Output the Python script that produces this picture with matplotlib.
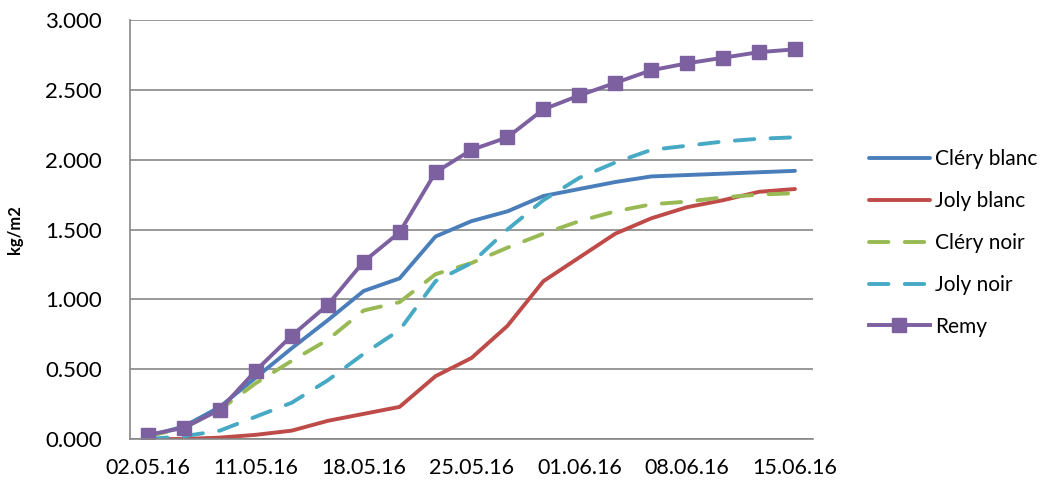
import matplotlib.pyplot as plt
import numpy as np

plt.rcParams['font.family'] = ['Lato', 'DejaVu Sans']

# categories (measurement dates), only every 3rd is labelled
tick_labels = ['02.05.16', '11.05.16', '18.05.16', '25.05.16',
               '01.06.16', '08.06.16', '15.06.16']
n_points = 19

# series values (kg/m2)
clery_blanc = [0.02, 0.09, 0.23, 0.44, 0.65, 0.85, 1.06, 1.15, 1.45, 1.56,
               1.63, 1.74, 1.79, 1.84, 1.88, 1.89, 1.90, 1.91, 1.92]
joly_blanc = [0.00, 0.00, 0.01, 0.03, 0.06, 0.13, 0.18, 0.23, 0.45, 0.58,
              0.81, 1.13, 1.30, 1.47, 1.58, 1.66, 1.71, 1.77, 1.79]
clery_noir = [0.02, 0.08, 0.21, 0.40, 0.56, 0.71, 0.92, 0.98, 1.18, 1.26,
              1.37, 1.47, 1.56, 1.63, 1.68, 1.70, 1.73, 1.75, 1.76]
joly_noir = [0.00, 0.02, 0.06, 0.16, 0.26, 0.42, 0.61, 0.78, 1.13, 1.26,
             1.50, 1.71, 1.87, 1.98, 2.07, 2.10, 2.13, 2.15, 2.16]
remy = [0.03, 0.08, 0.21, 0.49, 0.74, 0.96, 1.27, 1.48, 1.91, 2.07,
        2.16, 2.36, 2.46, 2.55, 2.64, 2.69, 2.73, 2.77, 2.79]

x = np.arange(n_points)

fig = plt.figure(figsize=(10.46, 4.8), dpi=100)
ax = fig.add_axes([0.1243, 0.0854, 0.6529, 0.8729])

lw = 2.8
ax.plot(x, clery_blanc, color='#4A7EBB', lw=lw, label='Cléry blanc', solid_capstyle='round')
ax.plot(x, joly_blanc, color='#BE4B48', lw=lw, label='Joly blanc', solid_capstyle='round')
ax.plot(x, clery_noir, color='#98B954', lw=lw, label='Cléry noir',
        dashes=(5.0, 4.2), dash_capstyle='round')
ax.plot(x, joly_noir, color='#46AAC5', lw=lw, label='Joly noir',
        dashes=(5.0, 4.2), dash_capstyle='round')
ax.plot(x, remy, color='#7D60A0', lw=lw, label='Remy', marker='s', markersize=9.5)

ax.set_xlim(-0.5, n_points - 0.5)
ax.set_ylim(0, 3.0)
ax.set_yticks(np.arange(0, 3.01, 0.5))
ax.set_yticklabels([f'{v:.3f}' for v in np.arange(0, 3.01, 0.5)], fontsize=16)
ax.set_xticks(x[::3])
ax.set_xticklabels(tick_labels, fontsize=15.5)
ax.tick_params(length=0)
ax.tick_params(axis='x', pad=14)
ax.tick_params(axis='y', pad=20)

ax.grid(True, axis='y', color='#878787', lw=1.2)
ax.set_axisbelow(True)
for s in ['top', 'right']:
    ax.spines[s].set_visible(False)
for s in ['left', 'bottom']:
    ax.spines[s].set_color('#878787')
    ax.spines[s].set_linewidth(1.2)

ax.set_ylabel('kg/m2', fontsize=12, fontweight='bold', labelpad=16)

ax.legend(loc='center left', bbox_to_anchor=(1.055, 0.468), frameon=False,
          fontsize=15, handlelength=2.9, handletextpad=0.25, labelspacing=1.05)

fig.savefig('out.png', dpi=100, facecolor='white')
